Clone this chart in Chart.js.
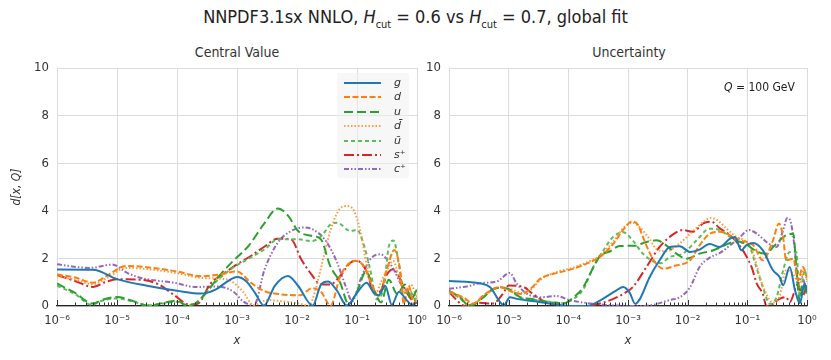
<!DOCTYPE html>
<html>
<head>
<meta charset="utf-8">
<script src="https://cdn.jsdelivr.net/npm/chart.js@4/dist/chart.umd.min.js"></script>
<style>
  body { margin: 0; width: 831px; height: 360px; position: relative; background: #fff; overflow: hidden;
         font-family: "Liberation Sans Narrow", "DejaVu Sans Condensed", Roboto, sans-serif; color: #222; }
  canvas { position: absolute; left: 0; top: 0; }
  .txt { position: absolute; white-space: nowrap; }
  #title { top: 6px; left: 0; width: 831px; text-align: center; font-size: 18px; }
  #title sub { font-size: 11px; }
  .sub { top: 44px; font-size: 14px; text-align: center; width: 360px; color: #333; }
  #legend { position: absolute; left: 337px; top: 73px; width: 72px; height: 105px; background: rgba(240,240,240,0.55);
            border-radius: 2px; }
  .row { position: absolute; left: 0; height: 14px; width: 72px; }
  .row svg { position: absolute; left: 7px; top: 4px; }
  .row span { position: absolute; left: 57px; top: 0; font: italic 11px "DejaVu Sans", sans-serif; color: #333; }
  #qlab { left: 724px; top: 80px; font-size: 12px; color: #222; }
</style>
</head>
<body>
<div id="title" class="txt">NNPDF3.1sx NNLO, <i>H</i><sub>cut</sub> = 0.6 vs <i>H</i><sub>cut</sub> = 0.7, global fit</div>
<div class="txt sub" style="left:57px">Central Value</div>
<div class="txt sub" style="left:449px">Uncertainty</div>
<canvas id="cv" width="831" height="360"></canvas>
<canvas id="un" width="831" height="360"></canvas>
<div id="legend"></div>
<div id="qlab" class="txt"><i>Q</i> = 100 GeV</div>
<script>
// ---- data: [log10(x), d[x,Q]] ----
const seriesNames = ['g', 'd', 'u', 'd\u0304', 'u\u0304', 's\u207A', 'c\u207A'];
const seriesColors = ['#1f77b4', '#ff7f0e', '#2ca02c', '#ff9a3c', '#5cbb5c', '#d62728', '#9467bd'];
const seriesDashes = [[], [6, 2.5], [9, 4], [1.5, 2], [4, 3], [10, 3, 2, 3], [5, 2, 1.5, 2, 1.5, 2]];

// Central value panel
const cvG = [[-6,1.53],[-5.4,1.52],[-5,1.13],[-4.5,0.85],[-4,0.64],[-3.6,0.52],[-3.35,0.7],[-3.15,1.05],[-3,1.22],[-2.85,1.05],[-2.7,0.55],[-2.55,0.02],[-2.37,0.85],[-2.15,1.26],[-1.98,0.84],[-1.74,0.02],[-1.6,0.9],[-1.48,1.03],[-1.33,0.63],[-1.17,0.02],[-1.0,0.55],[-0.84,0.98],[-0.72,0.55],[-0.64,0.45],[-0.53,0.85],[-0.42,0.05],[-0.3,0.6],[-0.19,0.3],[-0.08,0.05],[0,0.15]];
const cvD = [[-6,1.32],[-5.7,1.2],[-5.4,0.98],[-5.15,1.3],[-4.85,1.68],[-4.5,1.63],[-4,1.45],[-3.6,1.25],[-3.3,1.32],[-3,1.45],[-2.77,0.98],[-2.54,0.62],[-2.3,0.5],[-1.95,0.45],[-1.75,0.75],[-1.6,0.6],[-1.44,0.02],[-1.28,1.25],[-1.03,1.9],[-0.89,1.68],[-0.72,0.7],[-0.64,0.42],[-0.5,1.55],[-0.38,2.35],[-0.28,1.5],[-0.22,0.1],[-0.14,0.85],[-0.05,0.1],[0,0.4]];
const cvU = [[-6,0.95],[-5.7,0.55],[-5.4,0.1],[-5.25,0.25],[-5,0.38],[-4.75,0.22],[-4.45,0.01],[-4.2,0.15],[-4,0.22],[-3.85,0.04],[-3.7,0.1],[-3.5,0.6],[-3.3,1.25],[-3.1,1.8],[-2.8,2.55],[-2.55,3.45],[-2.32,4.1],[-2.15,3.8],[-1.98,3.15],[-1.76,2.95],[-1.6,2.8],[-1.45,1.7],[-1.28,0.98],[-1.14,0.08],[-1,0.6],[-0.85,1.45],[-0.72,0.7],[-0.6,0.15],[-0.47,1.1],[-0.33,0.5],[-0.2,0.9],[-0.1,0.3],[0,0.7]];
const cvDb = [[-6,1.25],[-5.7,1.1],[-5.4,0.92],[-5.15,1.2],[-4.85,1.6],[-4.5,1.55],[-4,1.38],[-3.6,1.18],[-3.3,1.15],[-3.1,1.05],[-2.9,0.6],[-2.72,0.03],[-2.5,0.25],[-2.25,0.2],[-2,0.12],[-1.8,0.02],[-1.7,0.6],[-1.6,1.6],[-1.44,3.2],[-1.28,4.1],[-1.17,4.2],[-1.05,4.0],[-0.94,3.1],[-0.86,2.0],[-0.78,1.2],[-0.7,0.5],[-0.6,1.0],[-0.5,1.5],[-0.4,1.9],[-0.3,1.2],[-0.2,0.55],[-0.1,0.9],[0,0.3]];
const cvUb = [[-6,0.85],[-5.7,0.5],[-5.42,0.05],[-5.25,0.22],[-5,0.32],[-4.75,0.2],[-4.5,0.03],[-4.2,0.12],[-4,0.18],[-3.82,0.02],[-3.65,0.2],[-3.4,0.9],[-3.1,1.55],[-2.8,2.0],[-2.54,2.38],[-2.32,2.8],[-1.98,2.8],[-1.76,2.73],[-1.59,2.95],[-1.44,3.43],[-1.33,3.5],[-1.11,3.15],[-1,3.2],[-0.89,2.6],[-0.78,1.54],[-0.67,0.28],[-0.55,0.84],[-0.47,2.5],[-0.39,2.75],[-0.3,1.7],[-0.22,0.56],[-0.11,0.6],[-0.03,0.28],[0,0.4]];
const cvS = [[-6,1.3],[-5.7,1.05],[-5.4,0.8],[-5.2,1.0],[-5,1.12],[-4.6,1.1],[-4.3,0.9],[-4.06,0.48],[-3.78,0.05],[-3.65,0.1],[-3.44,0.94],[-3.2,1.4],[-3,1.75],[-2.77,2.1],[-2.54,2.5],[-2.32,2.83],[-2.1,2.8],[-1.93,1.96],[-1.76,1.33],[-1.61,0.91],[-1.45,0.9],[-1.28,1.26],[-1.11,1.82],[-1,1.9],[-0.83,1.4],[-0.72,0.56],[-0.62,0.6],[-0.5,1.33],[-0.39,1.54],[-0.28,1.12],[-0.17,0.56],[-0.05,0.2],[0,0.3]];
const cvC = [[-6,1.75],[-5.45,1.6],[-5.08,1.74],[-4.83,1.39],[-4.6,1.18],[-4.06,0.98],[-3.67,0.8],[-3.33,0.82],[-3.06,0.6],[-2.9,0.2],[-2.72,0.02],[-2.54,1.54],[-2.32,2.66],[-2.1,3.15],[-1.87,3.3],[-1.65,3.08],[-1.5,2.66],[-1.33,1.82],[-1.19,0.84],[-1.08,0.2],[-0.94,1.12],[-0.78,1.96],[-0.61,2.17],[-0.5,1.96],[-0.39,1.54],[-0.25,0.84],[-0.14,0.56],[-0.03,0.28],[0,0.3]];

// Uncertainty panel
const unG = [[-6,1.05],[-5.48,0.95],[-5.31,0.79],[-5.14,0.15],[-5.08,0.03],[-4.98,0.37],[-4.86,0.3],[-4.47,0.16],[-4.2,0.06],[-3.95,0],[-3.7,0],[-3.47,0.23],[-3.2,0.65],[-3.08,0.8],[-2.97,0.55],[-2.88,0.09],[-2.8,0.3],[-2.64,1.2],[-2.47,1.92],[-2.3,2.48],[-2.13,2.51],[-1.96,2.27],[-1.8,2.37],[-1.63,2.6],[-1.46,2.48],[-1.29,2.83],[-1.21,2.9],[-1.1,2.34],[-1.02,2.55],[-0.9,2.65],[-0.74,2.34],[-0.57,1.5],[-0.46,1.22],[-0.4,0.87],[-0.29,1.64],[-0.2,0.65],[-0.12,0.12],[-0.04,0.93],[0,0.6]];
const unD = [[-6,0.6],[-5.75,0.35],[-5.6,0.1],[-5.4,0.5],[-5.15,0.8],[-4.95,0.6],[-4.78,0.5],[-4.6,0.8],[-4.47,1.15],[-4.2,1.38],[-3.91,1.57],[-3.63,1.85],[-3.47,2.06],[-3.25,2.6],[-3.05,3.3],[-2.93,3.55],[-2.83,3.4],[-2.75,2.9],[-2.63,2.2],[-2.52,1.75],[-2.41,1.57],[-2.2,1.7],[-1.96,1.92],[-1.8,2.55],[-1.63,3.04],[-1.46,3.12],[-1.29,2.97],[-1.12,2.76],[-0.9,2.55],[-0.74,1.92],[-0.57,2.76],[-0.47,3.47],[-0.4,2.9],[-0.35,1.92],[-0.23,1.99],[-0.15,1.08],[-0.07,1.64],[0,1.2]];
const unU = [[-6,0.65],[-5.82,0.37],[-5.65,0],[-5.42,0.37],[-5.26,0.72],[-5.09,0.76],[-4.95,0.65],[-4.81,0.37],[-4.64,0.3],[-4.31,0.16],[-4.08,0.11],[-3.91,0.37],[-3.75,0.79],[-3.58,1.63],[-3.47,2.1],[-3.3,2.3],[-3.14,2.52],[-2.9,2.53],[-2.69,2.69],[-2.52,2.76],[-2.36,2.55],[-2.19,2.2],[-2.02,1.99],[-1.8,2.2],[-1.57,2.34],[-1.38,2.55],[-1.18,2.72],[-1.02,2.6],[-0.85,2.3],[-0.7,2.2],[-0.54,2.55],[-0.37,2.95],[-0.23,3.04],[-0.18,1.64],[-0.12,0.2],[-0.07,0.93],[0,0.5]];
const unDb = [[-6,0.55],[-5.75,0.3],[-5.62,0.08],[-5.4,0.45],[-5.15,0.78],[-4.95,0.7],[-4.78,0.55],[-4.6,0.75],[-4.47,1.1],[-4.2,1.42],[-3.91,1.62],[-3.63,1.9],[-3.47,2.12],[-3.25,2.7],[-3.05,3.35],[-2.92,3.5],[-2.8,3.3],[-2.65,2.85],[-2.5,2.35],[-2.35,2.3],[-2.15,2.6],[-1.95,3.05],[-1.75,3.5],[-1.62,3.7],[-1.5,3.6],[-1.35,3.25],[-1.18,2.9],[-1.02,2.7],[-0.9,2.2],[-0.79,1.22],[-0.68,0.5],[-0.57,0.15],[-0.46,0.4],[-0.35,1.5],[-0.25,1.4],[-0.12,0.9],[-0.05,1.6],[0,1.0]];
const unUb = [[-6,0.62],[-5.82,0.33],[-5.66,0.02],[-5.42,0.4],[-5.26,0.7],[-5.09,0.78],[-4.95,0.62],[-4.81,0.35],[-4.64,0.28],[-4.31,0.18],[-4.08,0.12],[-3.91,0.3],[-3.75,0.7],[-3.58,1.64],[-3.41,2.34],[-3.25,2.9],[-3.08,3.1],[-2.92,2.75],[-2.75,2.2],[-2.58,1.88],[-2.45,1.8],[-2.3,2.06],[-2.08,2.2],[-1.85,2.76],[-1.63,3.25],[-1.46,3.19],[-1.29,2.9],[-1.12,2.69],[-0.96,2.48],[-0.85,1.64],[-0.74,0.79],[-0.62,0.09],[-0.51,0.37],[-0.4,1.5],[-0.29,2.27],[-0.18,2.27],[-0.12,0.37],[-0.04,1.5],[0,1.1]];
const unS = [[-6,0.58],[-5.72,0],[-5.49,0.14],[-5.27,0.1],[-5.1,0.5],[-5,0.86],[-4.75,0.8],[-4.6,0.52],[-4.38,0.17],[-4.15,0.02],[-3.7,0],[-3.42,0.14],[-3.2,0.35],[-3.05,0.55],[-2.92,0.79],[-2.69,1.64],[-2.47,2.48],[-2.25,3.0],[-2.08,3.19],[-1.91,3.12],[-1.74,3.47],[-1.6,3.54],[-1.46,3.26],[-1.29,2.97],[-1.18,2.69],[-1.04,2.2],[-0.93,1.64],[-0.84,0.93],[-0.74,0.51],[-0.68,0],[-0.57,0.09],[-0.46,0.3],[-0.35,0.37],[-0.29,0.16],[-0.15,0.93],[-0.08,0.4],[0,0.9]];
const unC = [[-6,0.72],[-5.65,0.85],[-5.49,0.96],[-5.2,1.03],[-4.98,1.39],[-4.87,0.96],[-4.7,0.52],[-4.43,0.37],[-4.2,0.42],[-3.98,0.25],[-3.64,0.11],[-3.2,0.02],[-2.8,0],[-2.58,0.05],[-2.3,0.25],[-2.13,0.37],[-1.96,0.79],[-1.8,1.64],[-1.63,2.03],[-1.46,2.23],[-1.29,2.55],[-1.12,2.9],[-0.98,3.19],[-0.84,3.04],[-0.68,2.69],[-0.51,2.48],[-0.4,3.19],[-0.33,3.7],[-0.27,3.5],[-0.2,2.27],[-0.15,0.93],[-0.09,1.22],[0,0.6]];

// order matches seriesNames: g, d, u, dbar, ubar, s+, c+
const cvSeries = [cvG, cvD, cvU, cvDb, cvUb, cvS, cvC];
const unSeries = [unG, unD, unU, unDb, unUb, unS, unC];
const xDecades = [-6, -5, -4, -3, -2, -1, 0];
const yTicks = [0, 2, 4, 6, 8, 10];

const FONT = '"Liberation Sans Narrow", "DejaVu Sans Condensed", Roboto, sans-serif';
const SUP = { '-': '\u207B', '0': '\u2070', '1': '\u00B9', '2': '\u00B2', '3': '\u00B3', '4': '\u2074', '5': '\u2075', '6': '\u2076' };
const supStr = (n) => String(n).split('').map((c) => SUP[c]).join('');

// all log ticks 1..9 x 10^n, decades flagged major
const xTickList = [];
for (const e of xDecades) {
  xTickList.push({ value: Math.pow(10, e), major: true });
  if (e < 0) for (let k = 2; k <= 9; k++) xTickList.push({ value: k * Math.pow(10, e), major: false });
}
const isDecade = (v) => Math.abs(Math.log10(v) - Math.round(Math.log10(v))) < 1e-9;

const innerTicks = {
  id: 'innerTicks',
  afterDraw(chart) {
    const s = chart.scales.x, ctx = chart.ctx;
    ctx.save();
    ctx.strokeStyle = '#333';
    ctx.lineWidth = 1;
    for (const t of s.ticks) {
      const px = Math.round(s.getPixelForValue(t.value)) + 0.5;
      ctx.beginPath();
      ctx.moveTo(px, s.top);
      ctx.lineTo(px, s.top - (isDecade(t.value) ? 6 : 3.5));
      ctx.stroke();
    }
    ctx.restore();
  }
};

function makeChart(id, series, pad, yAxisWidth, yTitle) {
  const datasets = series.map((pts, i) => ({
    label: seriesNames[i],
    data: pts.map(([e, v]) => ({ x: Math.pow(10, e), y: v })),
    borderColor: seriesColors[i],
    borderDash: seriesDashes[i],
    borderWidth: 2,
    pointRadius: 0,
    fill: false,
    cubicInterpolationMode: 'monotone',
  }));
  return new Chart(document.getElementById(id), {
    type: 'line',
    data: { datasets },
    plugins: [innerTicks],
    options: {
      responsive: false,
      animation: false,
      events: [],
      layout: { padding: pad },
      plugins: { legend: { display: false }, tooltip: { enabled: false } },
      scales: {
        x: {
          type: 'logarithmic', min: 1e-6, max: 1,
          afterBuildTicks: (s) => { s.ticks = xTickList.map((t) => ({ value: t.value })); },
          afterFit: (s) => { s.height = 54; },
          ticks: {
            autoSkip: false, maxRotation: 0, padding: 7, color: '#333',
            font: { family: FONT, size: 13 },
            callback: (v) => isDecade(v) ? '10' + supStr(Math.round(Math.log10(v))) : '',
          },
          grid: { drawTicks: false, color: (c) => (c.tick && isDecade(c.tick.value)) ? '#dcdcdc' : 'rgba(0,0,0,0)' },
          border: { display: true, color: '#222', width: 1.2 },
          title: { display: true, text: 'x', color: '#333', font: { family: FONT, size: 13, style: 'italic' }, padding: { top: 0, bottom: 12 } },
        },
        y: {
          min: 0, max: 10,
          afterBuildTicks: (s) => { s.ticks = yTicks.map((v) => ({ value: v })); },
          afterFit: (s) => { s.width = yAxisWidth; },
          ticks: { padding: 8, color: '#333', font: { family: FONT, size: 13 } },
          grid: { drawTicks: false, color: '#dcdcdc' },
          border: { display: false },
          title: { display: !!yTitle, text: yTitle, color: '#333', font: { family: FONT, size: 12, style: 'italic' }, padding: { top: 10, bottom: 0 } },
        },
      },
    },
  });
}

makeChart('cv', cvSeries, { left: 0, right: 414, top: 68, bottom: 0 }, 57, 'd[x, Q]');
makeChart('un', unSeries, { left: 419, right: 24, top: 68, bottom: 0 }, 30, '');

// legend built from the same series arrays
const legendEl = document.getElementById('legend');
seriesNames.forEach((name, i) => {
  const row = document.createElement('div');
  row.className = 'row';
  row.style.top = (3 + i * 14.4) + 'px';
  row.innerHTML =
    `<svg width="38" height="6"><line x1="0" y1="3" x2="37" y2="3" stroke="${seriesColors[i]}" stroke-width="2"` +
    ` stroke-dasharray="${seriesDashes[i].join(' ') || 'none'}"/></svg><span>${name}</span>`;
  legendEl.appendChild(row);
});
</script>
</body>
</html>
